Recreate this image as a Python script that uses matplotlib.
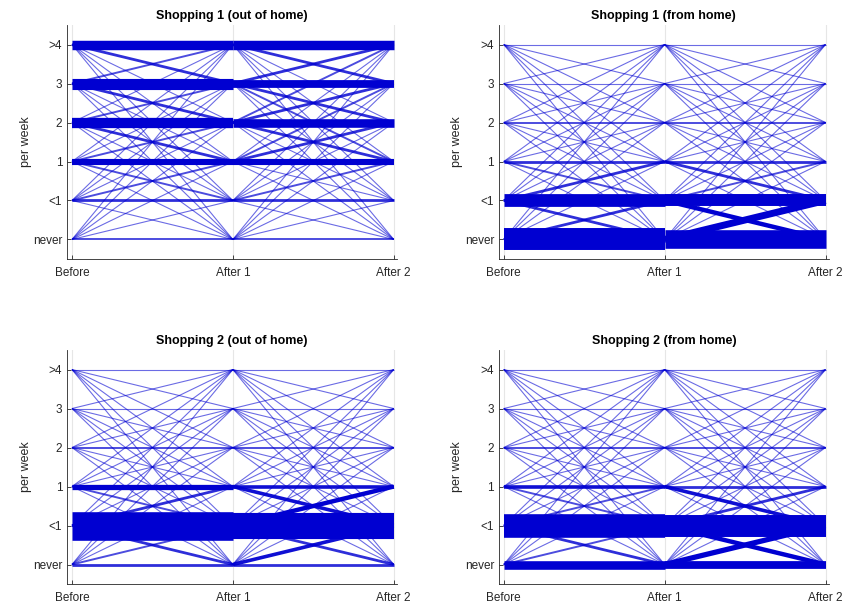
import matplotlib
matplotlib.use("Agg")
import matplotlib.pyplot as plt
import numpy as np

# levels, low to high
levels = ["never", "<1", "1", "2", "3", ">4"]
stages = ["Before", "After 1", "After 2"]
titles = ["Shopping 1 (out of home)", "Shopping 1 (from home)",
          "Shopping 2 (out of home)", "Shopping 2 (from home)"]

# number of respondents moving from level (row) to level (column)
# shopping 1, out of home
s1_out_a = [[2, 1, 1, 1, 1, 1],
            [1, 3, 2, 1, 1, 1],
            [1, 2, 7, 2, 1, 1],
            [1, 1, 3, 12, 2, 1],
            [1, 1, 1, 3, 13, 2],
            [1, 1, 1, 1, 3, 11]]
s1_out_b = [[2, 1, 1, 1, 1, 1],
            [1, 3, 2, 1, 1, 1],
            [1, 1, 7, 3, 2, 1],
            [1, 1, 3, 10, 3, 2],
            [1, 1, 2, 3, 9, 3],
            [1, 1, 1, 1, 3, 11]]
# shopping 1, from home
s1_home_a = [[26, 3, 1, 1, 1, 1],
             [3, 15, 3, 1, 1, 1],
             [1, 2, 3, 1, 1, 1],
             [1, 1, 1, 2, 1, 1],
             [1, 1, 1, 1, 1, 1],
             [1, 1, 1, 1, 1, 1]]
s1_home_b = [[22, 8, 1, 1, 1, 1],
             [5, 14, 2, 1, 1, 1],
             [1, 3, 3, 1, 1, 1],
             [1, 1, 1, 2, 1, 1],
             [1, 1, 1, 1, 1, 1],
             [1, 1, 1, 1, 1, 1]]
# shopping 2, out of home
s2_out_a = [[3, 2, 1, 1, 1, 1],
            [3, 34, 3, 1, 1, 1],
            [1, 2, 6, 1, 1, 1],
            [1, 1, 1, 2, 1, 1],
            [1, 1, 1, 1, 1, 1],
            [1, 1, 1, 1, 1, 1]]
s2_out_b = [[3, 4, 1, 1, 1, 1],
            [3, 31, 5, 1, 1, 1],
            [1, 4, 4, 1, 1, 1],
            [1, 1, 1, 2, 1, 1],
            [1, 1, 1, 1, 1, 1],
            [1, 1, 1, 1, 1, 1]]
# shopping 2, from home
s2_home_a = [[10, 2, 1, 1, 1, 1],
             [3, 28, 2, 1, 1, 1],
             [1, 2, 4, 1, 1, 1],
             [1, 1, 1, 2, 1, 1],
             [1, 1, 1, 1, 1, 1],
             [1, 1, 1, 1, 1, 1]]
s2_home_b = [[9, 6, 1, 1, 1, 1],
             [5, 26, 3, 1, 1, 1],
             [1, 4, 3, 1, 1, 1],
             [1, 1, 1, 2, 1, 1],
             [1, 1, 1, 1, 1, 1],
             [1, 1, 1, 1, 1, 1]]

panels = [(s1_out_a, s1_out_b), (s1_home_a, s1_home_b),
          (s2_out_a, s2_out_b), (s2_home_a, s2_home_b)]

positions = [[0.079, 0.5705, 0.388, 0.388], [0.587, 0.5705, 0.388, 0.388],
             [0.079, 0.0315, 0.388, 0.388], [0.587, 0.0315, 0.388, 0.388]]

plt.rcParams["font.family"] = ["Liberation Sans", "DejaVu Sans"]
fig = plt.figure(figsize=(8.5, 6.03), dpi=100)

for k in range(4):
    ax = fig.add_axes(positions[k])
    for x in range(3):
        ax.axvline(x, color="#e6e6e6", lw=0.8, zorder=0)

    segs = []
    for s, mat in enumerate(panels[k]):
        m = np.array(mat)
        for i in range(6):
            for j in range(6):
                if m[i, j] > 0:
                    segs.append((m[i, j], s, i, j))
    segs.sort()  # thin lines first
    for n, s, i, j in segs:
        a = min(1.0, 0.58 + 0.12 * (n - 1))
        ax.plot([s, s + 1], [i, j], color=(0.0, 0.0, 0.82), alpha=a,
                lw=0.6 * n + 0.2, solid_capstyle="butt", zorder=2)

    ax.set_xlim(-0.03, 2.02)
    ax.set_ylim(-0.5, 5.5)
    ax.set_xticks(range(3))
    ax.set_xticklabels(stages)
    ax.set_yticks(range(6))
    ax.set_yticklabels(levels)
    ax.set_ylabel("per week", fontsize=9, color="#262626", labelpad=1)
    ax.set_title(titles[k], fontsize=9, fontweight="bold", pad=4)
    for side in ["top", "right"]:
        ax.spines[side].set_visible(False)
    for side in ["left", "bottom"]:
        ax.spines[side].set_color("#262626")
        ax.spines[side].set_linewidth(0.6)
    ax.tick_params(direction="in", length=3, width=0.6, colors="#262626",
                   labelsize=8.5)
    ax.tick_params(axis="x", pad=6)

fig.savefig("out.png", dpi=100)
